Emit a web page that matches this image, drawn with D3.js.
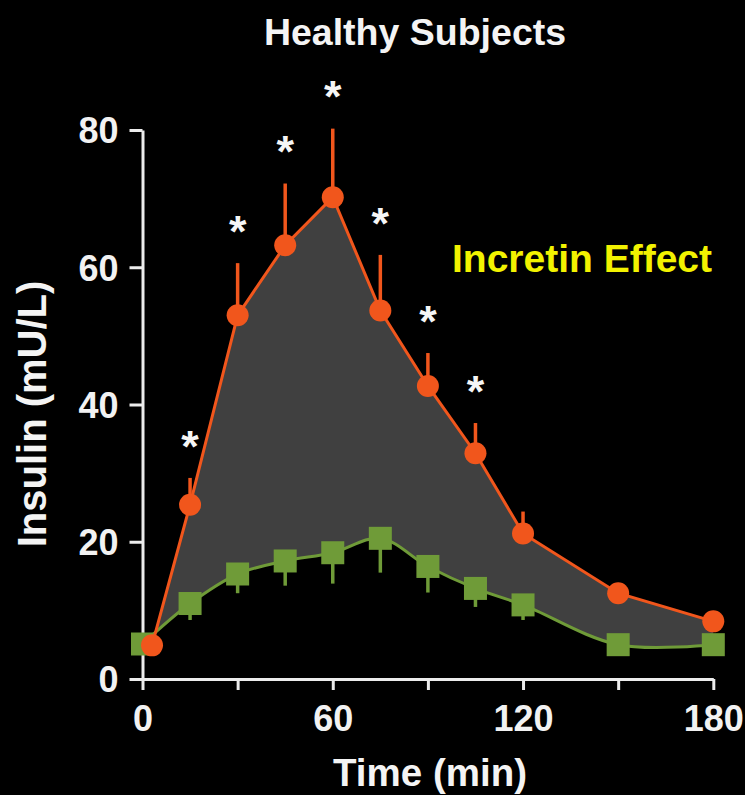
<!DOCTYPE html>
<html>
<head>
<meta charset="utf-8">
<script src="https://cdn.jsdelivr.net/npm/d3@7"></script>
<style>
  html, body { margin: 0; padding: 0; background: #000; }
  svg { display: block; }
  text { font-family: "Liberation Sans", Arial, Helvetica, sans-serif; font-weight: bold; }
</style>
</head>
<body>
<svg id="chart" width="745" height="795"></svg>
<script>
// Insulin after oral glucose (orange circles) vs. isoglycaemic IV glucose (green squares)
const oralTimes   = [3, 15, 30, 45, 60, 75, 90, 105, 120, 150, 180];
const oralInsulin = [4.9, 25.4, 53.0, 63.2, 70.2, 53.7, 42.7, 32.9, 21.2, 12.5, 8.4];
const oralSEM     = [0, 3.9, 7.6, 9.0, 10.0, 8.1, 4.8, 4.4, 3.2, 0, 0];
const oralSignificant = [false, true, true, true, true, true, true, true, false, false, false];

const ivTimes   = [0, 15, 30, 45, 60, 75, 90, 105, 120, 150, 180];
const ivInsulin = [5.1, 11.0, 15.3, 17.2, 18.4, 20.5, 16.4, 13.2, 10.8, 5.0, 5.0];
const ivSEM     = [0, 2.4, 2.8, 3.6, 4.5, 5.0, 3.8, 2.7, 2.2, 0, 0];

const xTickValues = [0, 30, 60, 90, 120, 150, 180];
const xTickLabels = ["0", "", "60", "", "120", "", "180"];
const yTickValues = [0, 20, 40, 60, 80];

const titleText = "Healthy Subjects";
const xAxisTitle = "Time (min)";
const yAxisTitle = "Insulin (mU/L)";
const annotationText = "Incretin Effect";

// colours
const ORANGE = "#f1561c";
const GREEN = "#6f9b38";
const FILL = "#404040";
const AXIS = "#ececec";
const YELLOW = "#f2f200";

const svg = d3.select("#chart");
const x = d3.scaleLinear().domain([0, 180]).range([142.5, 713.3]);
const y = d3.scaleLinear().domain([0, 80]).range([679, 130]);

const oral = oralTimes.map((t, i) => ({ t, v: oralInsulin[i], e: oralSEM[i], sig: oralSignificant[i] }));
const iv = ivTimes.map((t, i) => ({ t, v: ivInsulin[i], e: ivSEM[i] }));

const oralLine = d3.line().x(d => x(d.t)).y(d => y(d.v));
const ivLine = d3.line().x(d => x(d.t)).y(d => y(d.v)).curve(d3.curveCatmullRom);

// shaded area between the two responses
const areaPath = oralLine(oral) + ivLine(iv.slice().reverse()).replace(/^M/, "L") + "Z";
svg.append("path").attr("d", areaPath).attr("fill", FILL);

// axes
const yAxis = d3.axisLeft(y).tickValues(yTickValues).tickSize(13).tickSizeOuter(0).tickPadding(11);
const xAxis = d3.axisBottom(x).tickValues(xTickValues).tickSize(11).tickSizeOuter(0).tickPadding(15)
  .tickFormat((d, i) => xTickLabels[i]);

const gy = svg.append("g").attr("transform", `translate(${x(0)},0)`).call(yAxis);
const gx = svg.append("g").attr("transform", `translate(0,${y(0)})`).call(xAxis);
[gx, gy].forEach(g => {
  g.select(".domain").attr("stroke", AXIS).attr("stroke-width", 3);
  g.selectAll(".tick line").attr("stroke", AXIS).attr("stroke-width", 3);
  g.selectAll(".tick text").attr("fill", "#f2f2f2").attr("font-size", 36)
    .attr("font-family", "'Liberation Sans', Arial, sans-serif").attr("font-weight", "bold");
});
gy.selectAll(".tick text").attr("dy", "0.36em");

// IV series
svg.append("path").attr("d", ivLine(iv)).attr("fill", "none").attr("stroke", GREEN).attr("stroke-width", 3);
svg.append("g").selectAll("line").data(iv.filter(d => d.e > 0)).join("line")
  .attr("x1", d => x(d.t)).attr("x2", d => x(d.t))
  .attr("y1", d => y(d.v)).attr("y2", d => y(d.v - d.e))
  .attr("stroke", GREEN).attr("stroke-width", 3.5);
const sq = 23;
svg.append("g").selectAll("rect").data(iv).join("rect")
  .attr("x", d => x(d.t) - sq / 2).attr("y", d => y(d.v) - sq / 2)
  .attr("width", sq).attr("height", sq).attr("fill", GREEN);

// oral series
svg.append("path").attr("d", oralLine(oral)).attr("fill", "none").attr("stroke", ORANGE).attr("stroke-width", 3);
svg.append("g").selectAll("line").data(oral.filter(d => d.e > 0)).join("line")
  .attr("x1", d => x(d.t)).attr("x2", d => x(d.t))
  .attr("y1", d => y(d.v)).attr("y2", d => y(d.v + d.e))
  .attr("stroke", ORANGE).attr("stroke-width", 3.5);
svg.append("g").selectAll("circle").data(oral).join("circle")
  .attr("cx", d => x(d.t)).attr("cy", d => y(d.v)).attr("r", 11).attr("fill", ORANGE);

// significance markers above the error bars
const starSize = 45;
svg.append("g").selectAll("text").data(oral.filter(d => d.sig)).join("text")
  .attr("x", d => x(d.t)).attr("y", d => y(d.v + d.e) - 37 + 0.46 * starSize)
  .attr("text-anchor", "middle").attr("font-size", starSize).attr("fill", "#f6f6f6")
  .text("*");

// titles
svg.append("text").attr("x", 415).attr("y", 45).attr("text-anchor", "middle")
  .attr("font-size", 37.5).attr("fill", "#f4f4f4").text(titleText);
svg.append("text").attr("x", 430).attr("y", 786).attr("text-anchor", "middle")
  .attr("font-size", 38.5).attr("fill", "#f4f4f4").text(xAxisTitle);
svg.append("text").attr("transform", "translate(46,414) rotate(-90)").attr("text-anchor", "middle")
  .attr("font-size", 40).attr("fill", "#f4f4f4").text(yAxisTitle);
svg.append("text").attr("x", 452).attr("y", 271.5).attr("text-anchor", "start")
  .attr("font-size", 39).attr("fill", YELLOW).text(annotationText);
</script>
</body>
</html>
